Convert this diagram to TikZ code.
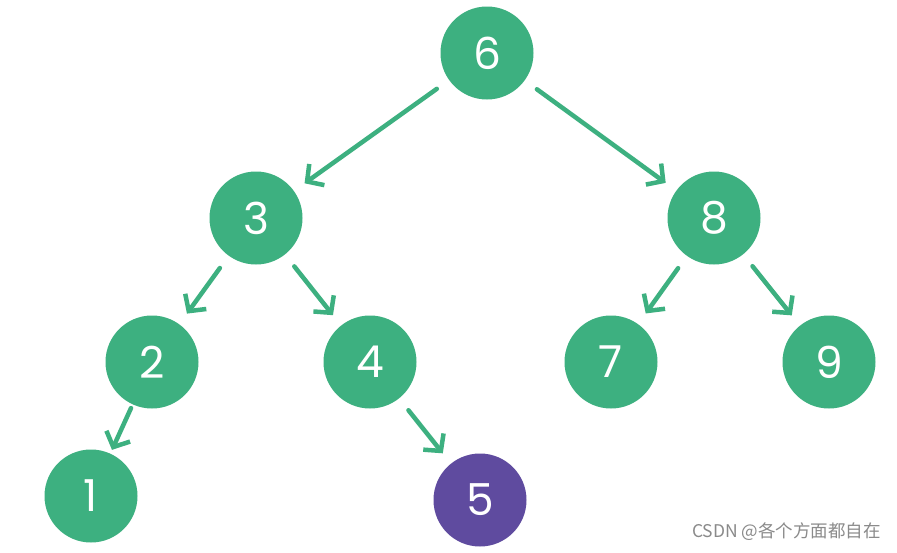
\documentclass[tikz,border=0pt]{standalone}
\usepackage{fontspec}
\setmainfont{Poppins}
\newfontfamily\cjk{Noto Sans CJK SC}
\usetikzlibrary{arrows.meta}
\definecolor{tgreen}{HTML}{3DB080}
\definecolor{tpurple}{HTML}{5F4B9F}
\definecolor{wmgray}{HTML}{8A8A8A}
\begin{document}
\begin{tikzpicture}[x=1pt,y=-1pt,
  treenode/.style={circle, fill=tgreen, minimum size=93pt, inner sep=0pt, text=white,
    font=\fontsize{44}{44}\selectfont},
  edge/.style={draw=tgreen, line width=4.5pt, line cap=round,
    -{Straight Barb[length=12pt,width=26pt,line width=4.5pt]},
    shorten <=15pt, shorten >=13pt}]
\useasboundingbox[fill=white] (0,0) rectangle (897,552);
\node[treenode] (n6) at (487,53) {6};
\node[treenode] (n3) at (256,218) {3};
\node[treenode] (n8) at (714,218) {8};
\node[treenode] (n2) at (152,362) {2};
\node[treenode] (n4) at (370,362) {4};
\node[treenode] (n7) at (611,362) {7};
\node[treenode] (n9) at (829,362) {9};
\node[treenode] (n1) at (91,496) {1};
\node[treenode, fill=tpurple] (n5) at (480,500) {5};
\draw[edge] (n6) -- (n3);
\draw[edge] (n6) -- (n8);
\draw[edge] (n3) -- (n2);
\draw[edge] (n3) -- (n4);
\draw[edge] (n8) -- (n7);
\draw[edge] (n8) -- (n9);
\draw[edge, shorten <=4pt, shorten >=4pt] (n2) -- (n1);
\draw[edge] (n4) -- (n5);
\node[anchor=east, text=wmgray, font=\cjk\fontsize{17.5}{17.5}\selectfont, inner sep=0pt] (wm) at (881,532) {CSDN @各个方面都自在};
\end{tikzpicture}
\end{document}
